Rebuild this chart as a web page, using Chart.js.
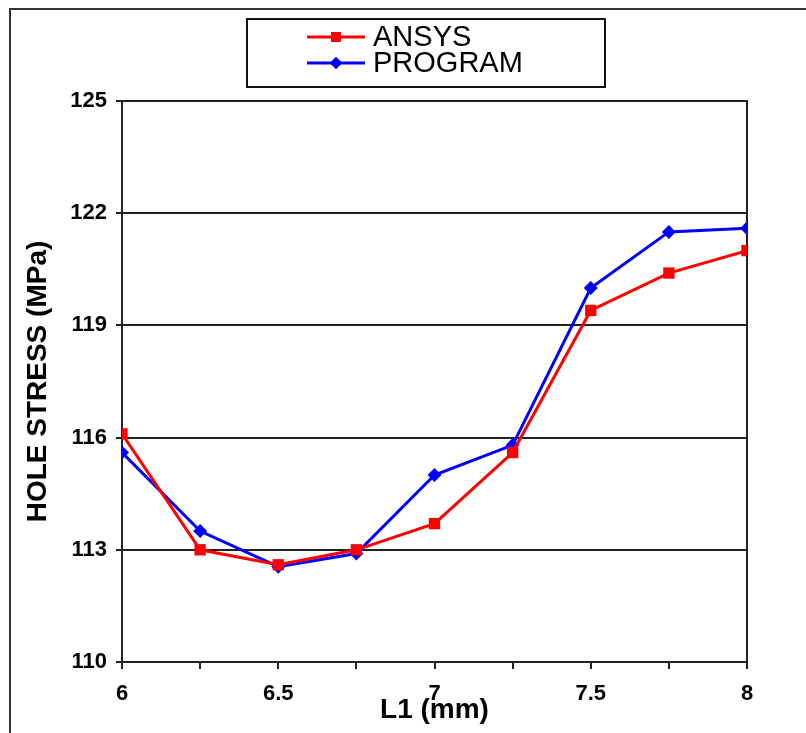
<!DOCTYPE html>
<html>
<head>
<meta charset="utf-8">
<script src="https://cdn.jsdelivr.net/npm/chart.js@4.4.1/dist/chart.umd.min.js"></script>
<style>
  html, body { margin: 0; padding: 0; background: #fff; }
  #wrap { width: 806px; height: 733px; position: relative; }
</style>
</head>
<body>
<div id="wrap"><canvas id="chart" width="806" height="733"></canvas></div>
<script>
// L1 (mm) e tensões no furo
const lengths = [6, 6.25, 6.5, 6.75, 7, 7.25, 7.5, 7.75, 8];
const ansys   = [116.1, 113.0, 112.6, 113.0, 113.7, 115.6, 119.4, 120.4, 121.0];
const program = [115.6, 113.5, 112.55, 112.9, 115.0, 115.8, 120.0, 121.5, 121.6];
const yTicks  = [110, 113, 116, 119, 122, 125];

const FONT = '"Liberation Sans", Arial, sans-serif';

// moldura externa da figura
const framePlugin = {
  id: 'frame',
  beforeDraw(chart) {
    const ctx = chart.ctx;
    ctx.save();
    ctx.fillStyle = '#fff';
    ctx.fillRect(0, 0, chart.width, chart.height);
    ctx.strokeStyle = '#333';
    ctx.lineWidth = 2;
    ctx.beginPath();
    ctx.moveTo(10, chart.height);
    ctx.lineTo(10, 9);
    ctx.lineTo(chart.width, 9);
    ctx.stroke();
    ctx.restore();
  }
};

// legenda em caixa, itens empilhados
const boxLegend = {
  id: 'boxLegend',
  afterDraw(chart) {
    const ctx = chart.ctx;
    ctx.save();
    ctx.strokeStyle = '#111';
    ctx.lineWidth = 2;
    ctx.strokeRect(247, 19, 358, 68);
    const rows = [37, 63];
    chart.data.datasets.forEach((ds, i) => {
      const y = rows[i];
      ctx.strokeStyle = ds.borderColor;
      ctx.lineWidth = 3;
      ctx.beginPath();
      ctx.moveTo(307, y);
      ctx.lineTo(365, y);
      ctx.stroke();
      ctx.fillStyle = ds.pointBackgroundColor;
      Chart.helpers.drawPoint(ctx, {
        pointStyle: ds.pointStyle, rotation: 0, radius: ds.pointRadius - 1, borderWidth: 0
      }, 336, y);
      ctx.fill();
      ctx.fillStyle = '#000';
      ctx.font = '29px ' + FONT;
      ctx.textBaseline = 'middle';
      ctx.textAlign = 'left';
      ctx.fillText(ds.label, 373, y + 1);
    });
    ctx.restore();
  }
};

new Chart(document.getElementById('chart'), {
  type: 'line',
  data: {
    datasets: [
      {
        label: 'ANSYS',
        data: lengths.map((x, i) => ({ x, y: ansys[i] })),
        borderColor: '#ff0000',
        backgroundColor: '#ff0000',
        pointBackgroundColor: '#ff0000',
        pointBorderColor: '#ff0000',
        pointStyle: 'rect',
        pointRadius: 8,
        pointBorderWidth: 0,
        borderWidth: 3,
        tension: 0
      },
      {
        label: 'PROGRAM',
        data: lengths.map((x, i) => ({ x, y: program[i] })),
        borderColor: '#0000ff',
        backgroundColor: '#0000ff',
        pointBackgroundColor: '#0000ff',
        pointBorderColor: '#0000ff',
        pointStyle: 'rectRot',
        pointRadius: 7,
        pointBorderWidth: 0,
        borderWidth: 3,
        tension: 0
      }
    ]
  },
  plugins: [framePlugin, boxLegend],
  options: {
    responsive: false,
    animation: false,
    layout: { padding: { left: 10, top: 101, right: 59, bottom: 0 } },
    plugins: {
      legend: { display: false },
      tooltip: { enabled: false }
    },
    scales: {
      x: {
        type: 'linear',
        min: 6, max: 8,
        afterFit: s => { s.height = 71; },
        afterBuildTicks: s => { s.ticks = lengths.map(v => ({ value: v })); },
        ticks: {
          autoSkip: false, maxRotation: 0, padding: 12,
          color: '#000',
          font: { family: FONT, size: 22, weight: 'bold' },
          callback: v => (Math.abs(v * 2 - Math.round(v * 2)) < 1e-9 ? String(v) : '')
        },
        grid: { drawOnChartArea: false, drawTicks: true, tickLength: 7, color: '#222', lineWidth: 2 },
        border: { display: true, color: '#222', width: 2 },
        title: {
          display: true, text: 'L1 (mm)', color: '#000',
          font: { family: FONT, size: 28, weight: 'bold' },
          padding: { top: 0, bottom: 6 }
        }
      },
      y: {
        min: 110, max: 125,
        afterFit: s => { s.width = 112; },
        afterBuildTicks: s => { s.ticks = yTicks.map(v => ({ value: v })); },
        ticks: {
          padding: 9, color: '#000',
          font: { family: FONT, size: 22, weight: 'bold' }
        },
        grid: { color: '#222', lineWidth: 2, tickLength: 6 },
        border: { display: true, color: '#222', width: 2 },
        title: {
          display: true, text: 'HOLE STRESS (MPa)', color: '#000',
          font: { family: FONT, size: 28, weight: 'bold' },
          padding: { top: 11, bottom: 0 }
        }
      },
      y2: {
        position: 'right',
        min: 110, max: 125,
        afterFit: s => { s.width = 0; },
        ticks: { display: false },
        grid: { drawOnChartArea: false, drawTicks: false },
        border: { display: true, color: '#222', width: 2 }
      }
    }
  }
});
</script>
</body>
</html>
